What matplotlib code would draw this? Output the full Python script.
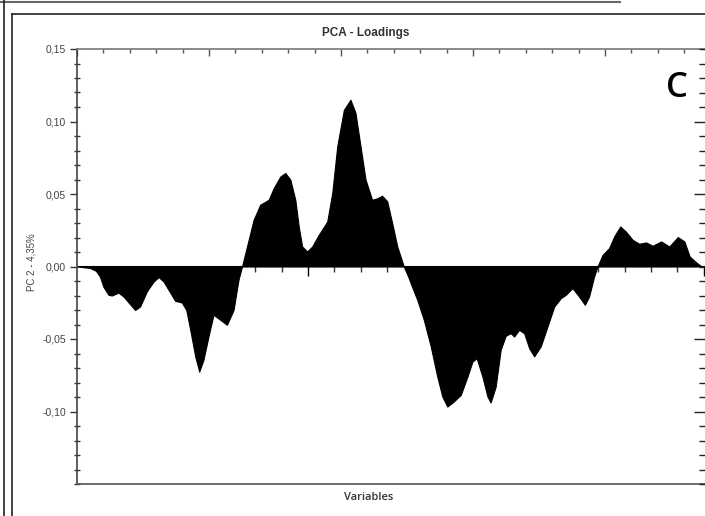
import numpy as np
import matplotlib
matplotlib.use("Agg")
import matplotlib.pyplot as plt
from matplotlib.ticker import MultipleLocator, FixedLocator, NullFormatter
from matplotlib.lines import Line2D

plt.rcParams['font.family'] = ['Liberation Sans', 'DejaVu Sans']

# variable index and PC2 loading
variables = [0, 4.9, 7.2, 8.7, 10.0, 11.9, 13.2, 15.7, 17.6, 20.1, 22.0, 23.9, 26.5, 29.0,
             30.9, 32.8, 35.3, 37.2, 39.7, 41.4, 42.9, 44.8, 46.3, 47.9, 49.8, 51.7, 54.3,
             56.8, 59.3, 61.2, 62.5, 64.4, 66.9, 69.4, 72.6, 74.5, 77.0, 78.9, 80.8, 82.7,
             84.0, 85.3, 87.2, 89.1, 91.6, 94.8, 96.7, 98.6, 101.1, 103.6, 105.5, 107.4,
             109.3, 111.8, 113.7, 115.6, 117.5, 119.4, 121.3, 123.8, 125.7, 126.4, 128.9,
             131.4, 134.0, 136.5, 138.4, 140.3, 142.8, 145.4, 147.9, 149.8, 151.4, 153.6,
             155.5, 156.7, 158.6, 160.5, 162.4, 164.3, 165.6, 167.5, 169.4, 171.3, 173.2,
             175.7, 178.3, 180.8, 183.3, 185.2, 187.7, 190.2, 192.4, 194.0, 195.9, 197.2,
             199.1, 201.6, 203.5, 205.8, 208.0, 210.5, 213.0, 215.6, 218.1, 221.3, 224.4,
             227.6, 230.1, 232.1, 234.6, 235.9, 236.8]
loadings = [0.0, -0.001, -0.003, -0.007, -0.014, -0.0195, -0.020, -0.018, -0.0207, -0.026,
            -0.030, -0.0276, -0.017, -0.0104, -0.0073, -0.0104, -0.018, -0.0237, -0.0248,
            -0.030, -0.0437, -0.062, -0.0725, -0.0644, -0.0483, -0.0333, -0.0368, -0.0402,
            -0.030, -0.009, 0.0, 0.0138, 0.0322, 0.0426, 0.046, 0.054, 0.062, 0.0645, 0.060,
            0.046, 0.0276, 0.0138, 0.0104, 0.0138, 0.0219, 0.031, 0.0507, 0.083, 0.108,
            0.115, 0.106, 0.083, 0.060, 0.046, 0.047, 0.0488, 0.045, 0.030, 0.014, 0.0,
            -0.008, -0.0115, -0.023, -0.0368, -0.055, -0.076, -0.0897, -0.0966, -0.093,
            -0.0885, -0.076, -0.0656, -0.0632, -0.076, -0.0897, -0.0938, -0.083, -0.0575,
            -0.0478, -0.046, -0.0483, -0.0437, -0.046, -0.0563, -0.062, -0.055, -0.041,
            -0.0276, -0.0218, -0.0195, -0.0149, -0.0207, -0.0264, -0.0207, -0.0069, 0.0,
            0.008, 0.0127, 0.0207, 0.0276, 0.024, 0.0184, 0.0157, 0.0166, 0.0143, 0.0173,
            0.0138, 0.0203, 0.0173, 0.0069, 0.0028, 0.001, 0.0]

y_ticks = [-0.10, -0.05, 0.0, 0.05, 0.10, 0.15]
y_labels = ['-0,10', '-0,05', '0,00', '0,05', '0,10', '0,15']

W, H = 705, 516
fig = plt.figure(figsize=(W / 100, H / 100), dpi=100)
ax = fig.add_axes([77 / W, (H - 484) / H, (706 - 77) / W, (484 - 49) / H])

ax.fill_between(variables, loadings, 0, color='black', linewidth=0.8, edgecolor='black')
ax.set_xlim(0, 238.3)
ax.set_ylim(-0.15, 0.15)

# left axis
ax.yaxis.set_major_locator(FixedLocator(y_ticks))
ax.set_yticklabels(y_labels, fontsize=7.5, color='#444444')
ax.yaxis.set_minor_locator(MultipleLocator(0.01))
ax.tick_params(axis='y', which='major', direction='out', length=5, width=1, color='#333333', pad=3)
ax.tick_params(axis='y', which='minor', direction='inout', length=5, width=1, color='#333333')

# top axis ticks, no bottom ticks
ax.xaxis.tick_top()
ax.xaxis.set_major_locator(MultipleLocator(50))
ax.xaxis.set_minor_locator(MultipleLocator(10))
ax.xaxis.set_major_formatter(NullFormatter())
ax.tick_params(axis='x', which='major', direction='in', length=5, width=1, color='#555555')
ax.tick_params(axis='x', which='minor', direction='in', length=3, width=1, color='#555555')

for side, col in [('top', '#777777'), ('left', '#444444'), ('bottom', '#555555')]:
    ax.spines[side].set_color(col)
    ax.spines[side].set_linewidth(1.2)
ax.spines['right'].set_visible(False)

# right side ticks pointing inwards
axr = ax.twinx()
axr.set_ylim(ax.get_ylim())
axr.yaxis.set_major_locator(FixedLocator([-0.10, -0.05, 0.05, 0.10]))
axr.yaxis.set_minor_locator(MultipleLocator(0.01))
axr.yaxis.set_major_formatter(NullFormatter())
axr.tick_params(axis='y', which='major', direction='in', length=9, width=1, color='#222222')
axr.tick_params(axis='y', which='minor', direction='in', length=5, width=1, color='#222222')
for s in axr.spines.values():
    s.set_visible(False)

# zero line with its own ticks
zero = ax.secondary_xaxis(0.5, functions=(lambda x: x + 12.5, lambda x: x - 12.5))
zero.xaxis.set_major_locator(MultipleLocator(50))
zero.xaxis.set_minor_locator(MultipleLocator(10))
zero.xaxis.set_major_formatter(NullFormatter())
zero.tick_params(axis='x', which='major', direction='in', length=7, width=1, color='black')
zero.tick_params(axis='x', which='minor', direction='in', length=4, width=1, color='#333333')
zero.spines['bottom'].set_linewidth(1.6)
zero.spines['bottom'].set_color('black')

fig.text(366 / W, 1 - 33 / H, 'PCA - Loadings', ha='center', va='center',
         fontsize=8.5, fontweight='bold', color='#333333')
fig.text(369 / W, 1 - 498 / H, 'Variables', ha='center', va='center',
         fontsize=8, fontweight='semibold', family=['Open Sans', 'DejaVu Sans'], color='#333333')
fig.text(32 / W, 1 - 262 / H, 'PC 2 - 4,35%', ha='center', va='center',
         rotation=90, fontsize=7, color='#444444')
fig.text(677 / W, 1 - 88 / H, 'C', ha='center', va='center',
         fontsize=25, fontweight='semibold', family=['Open Sans', 'DejaVu Sans'], color='black')

# frame of the screenshot panel
fig.add_artist(Line2D([0, 620 / W], [1 - 2 / H, 1 - 2 / H], color='#666666', lw=1.5))
fig.add_artist(Line2D([4 / W, 4 / W], [0, 1], color='#222222', lw=1.2))
fig.add_artist(Line2D([12 / W, 12 / W], [0, 1 - 14 / H], color='#222222', lw=1.2))
fig.add_artist(Line2D([12 / W, 1], [1 - 14 / H, 1 - 14 / H], color='#222222', lw=1.2))

fig.savefig('out.png', dpi=100)
